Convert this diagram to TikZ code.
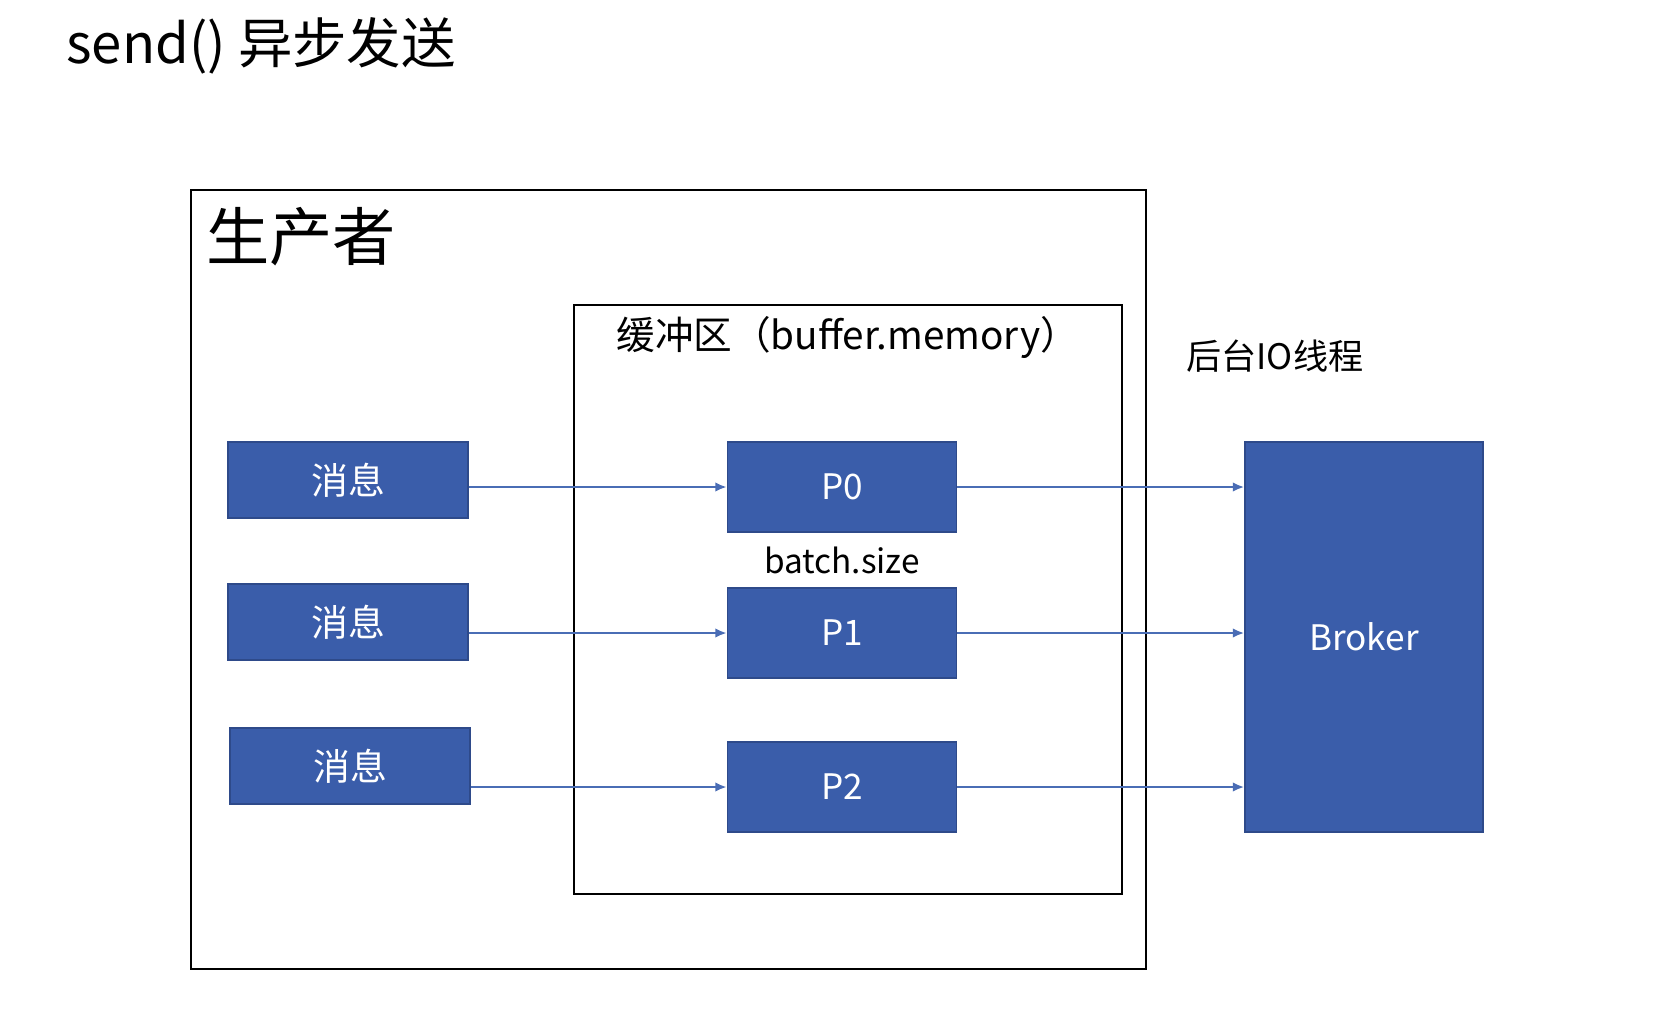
\documentclass[tikz,border=0pt]{standalone}
\usepackage{fontspec}
\setmainfont{Noto Sans CJK SC}
\usepackage{xcolor}
\usepackage{tikz}
\usetikzlibrary{positioning,calc,arrows.meta}

\definecolor{boxblue}{HTML}{3A5DAA}
\definecolor{boxedge}{HTML}{2E4A8A}
\definecolor{linkblue}{HTML}{4A6DB5}

\begin{document}
\begin{tikzpicture}[x=0.02cm, y=-0.02cm,
    blk/.style={draw=boxedge, line width=0.9pt, fill=boxblue, text=white, inner sep=0pt},
    msgbox/.style={blk, minimum width=4.8cm, minimum height=1.52cm, font=\fontsize{21}{24}\selectfont},
    partbox/.style={blk, minimum width=4.58cm, minimum height=1.8cm, font=\fontsize{20}{24}\selectfont},
    frame/.style={draw=black, line width=1.1pt},
    link/.style={draw=linkblue, line width=1.4pt, -{Latex[length=6.5pt,width=5.5pt]}},
    label/.style={inner sep=0pt, anchor=west}]
    \useasboundingbox (0,0) rectangle (1669,1019);

    % title and containers
    \node[label, font=\fontsize{31}{36}\selectfont] (title) at (66,46) {send() 异步发送};
    \draw[frame] (191,190) rectangle (1146,969);
    \node[label, font=\fontsize{36}{40}\selectfont] (producer) at (206,237) {生产者};
    \draw[frame] (574,305) rectangle (1122,894);
    \node[label, font=\fontsize{22}{26}\selectfont] (buffer) at (616,337) {缓冲区（buffer.memory）};
    \node[label, font=\fontsize{20}{24}\selectfont] (iothread) at (1186,356) {后台IO线程};

    % messages
    \node[msgbox] (m1) at (348,480) {消息};
    \node[msgbox] (m2) at (348,622) {消息};
    \node[msgbox] (m3) at (350,766) {消息};

    % partitions
    \node[partbox] (p0) at (842,487) {P0};
    \node[partbox] (p1) at (842,633) {P1};
    \node[partbox] (p2) at (842,787) {P2};
    \node[font=\fontsize{19}{22}\selectfont, inner sep=0pt] (batch) at (842,560) {batch.size};

    \node[blk, minimum width=4.76cm, minimum height=7.8cm, font=\fontsize{20}{24}\selectfont] (broker) at (1364,637) {Broker};

    % arrows
    \draw[link] (p0.west -| m1.east) -- (p0.west);
    \draw[link] (p1.west -| m2.east) -- (p1.west);
    \draw[link] (p2.west -| m3.east) -- (p2.west);
    \draw[link] (p0.east) -- (p0.east -| broker.west);
    \draw[link] (p1.east) -- (p1.east -| broker.west);
    \draw[link] (p2.east) -- (p2.east -| broker.west);
\end{tikzpicture}
\end{document}
